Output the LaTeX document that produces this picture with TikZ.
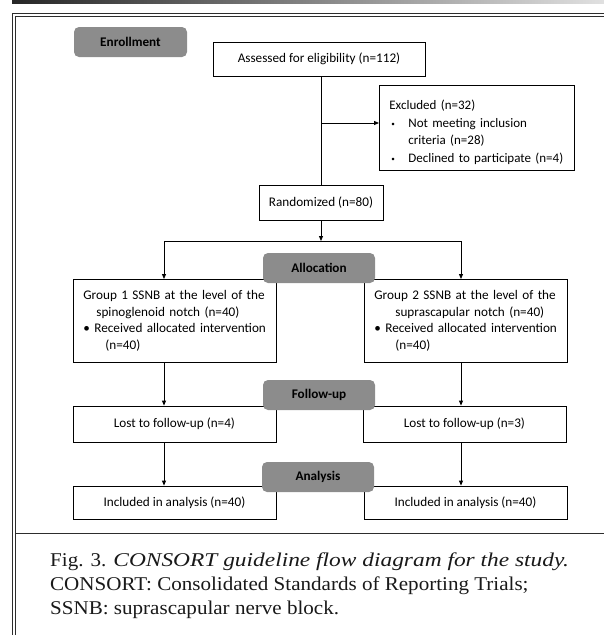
\documentclass[tikz,border=0pt]{standalone}
\usepackage{fontspec}
\setmainfont{Liberation Serif}
\newfontfamily\carlito{Carlito}
\newfontfamily\capfont[FakeStretch=1.08]{Liberation Serif}
\newfontfamily\capitfont[FakeStretch=1.2]{Liberation Serif Italic}
\usetikzlibrary{arrows.meta}
\definecolor{labelgray}{RGB}{140,140,140}
\definecolor{framegray}{RGB}{45,45,45}
\tikzset{
  box/.style={draw=black, line width=0.8pt, inner sep=0pt, font=\carlito\fontsize{13.2}{16}\selectfont},
  lbox/.style={box, align=left, inner xsep=10pt},
  stage/.style={fill=labelgray, rounded corners=5pt, inner sep=0pt, minimum width=112pt, minimum height=30pt, font=\carlito\bfseries\fontsize{13.2}{15}\selectfont},
  arr/.style={line width=0.8pt, -{Triangle[length=5pt,width=4pt]}},
  ln/.style={line width=0.8pt}
}
\newcommand{\smallbul}{\raisebox{0.5pt}{\scalebox{0.55}{\textbullet}}}
\begin{document}
\begin{tikzpicture}[x=1pt,y=-1pt]
\useasboundingbox (0,0) rectangle (604,635);
% top decorative bar
\shade[left color=black!85, right color=black!12] (12,0) rectangle (604,3);
% frame
\draw[framegray, line width=1.5pt] (12.5,635) -- (12.5,13.5) -- (604,13.5);
\draw[framegray, line width=0.8pt] (15.8,635) -- (15.8,16.5) -- (604,16.5);
\draw[framegray, line width=1pt] (15.8,533) -- (604,533);

\node[stage, minimum width=113pt] (enr) at (130.5,42) {Enrollment};

% boxes
\node[box, minimum width=212pt, minimum height=34pt] (assess) at (319,59) {Assessed for eligibility (n=112)};
\node[lbox, text width=175pt, minimum height=85pt, anchor=north west,
      font=\carlito\fontsize{13}{17.7}\selectfont] (excl) at (379,85)
  {\rule{0pt}{18pt}Excluded (n=32)\\
   \mbox{\makebox[19pt][l]{\hspace{2pt}\smallbul}Not meeting inclusion}\\
   \hspace*{19pt}criteria (n=28)\\
   \mbox{\makebox[19pt][l]{\hspace{2pt}\smallbul}Declined to participate (n=4)}};
\node[box, minimum width=124pt, minimum height=35pt] (rand) at (321,202.5) {Randomized (n=80)};

\node[lbox, text width=183pt, minimum height=83pt, anchor=north west,
      font=\carlito\fontsize{13.2}{16.5}\selectfont] (g1) at (73,279)
  {Group 1 SSNB at the level of the\\
   \hspace*{13pt}spinoglenoid notch (n=40)\\
   \makebox[11pt][l]{\textbullet}Received allocated intervention\\
   \hspace*{22pt}(n=40)};
\node[lbox, text width=183pt, minimum height=83pt, anchor=north west,
      font=\carlito\fontsize{13.2}{16.5}\selectfont] (g2) at (364,279)
  {Group 2 SSNB at the level of the\\
   \hspace*{21pt}suprascapular notch (n=40)\\
   \makebox[11pt][l]{\textbullet}Received allocated intervention\\
   \hspace*{21pt}(n=40)};

\node[box, minimum width=203pt, minimum height=36pt] (lost1) at (174.5,424) {Lost to follow-up (n=4)};
\node[box, minimum width=203pt, minimum height=36pt] (lost2) at (464.5,424) {Lost to follow-up (n=3)};
\node[box, minimum width=203pt, minimum height=33pt] (inc1) at (174.5,502.5) {Included in analysis (n=40)};
\node[box, minimum width=203pt, minimum height=33pt] (inc2) at (465.5,502.5) {Included in analysis (n=40)};

% connectors
\coordinate (split) at (321,241);
\coordinate (sl) at (164,241);
\coordinate (sr) at (461,241);
\coordinate (exarr) at (321,123);
\draw[ln] (assess.south -| split) -- (rand.north -| split);
\draw[arr] (exarr) -- (exarr -| excl.west);
\draw[arr] (rand.south -| split) -- (split);
\draw[ln] (sl) -- (sr);
\draw[arr] (sl) -- (g1.north -| sl);
\draw[arr] (sr) -- (g2.north -| sr);
\draw[arr] (g1.south -| sl) -- (lost1.north -| sl);
\draw[arr] (g2.south -| sr) -- (lost2.north -| sr);
\draw[arr] (lost1.south -| sl) -- (inc1.north -| sl);
\draw[arr] (lost2.south -| sr) -- (inc2.north -| sr);

% stage labels on top
\node[stage] (alloc) at (319,268) {Allocation};
\node[stage] (fup) at (319,395) {Follow-up};
\node[stage] (ana) at (318,477) {Analysis};

% caption
\node[anchor=north west, align=left, inner sep=0pt, text=black!90,
      font=\capfont\fontsize{19.5}{24}\selectfont] (cap) at (50,553)
  {Fig. 3. {\capitfont CONSORT guideline flow diagram for the study.}\\
   CONSORT: Consolidated Standards of Reporting Trials;\\
   SSNB: suprascapular nerve block.};
\end{tikzpicture}
\end{document}
